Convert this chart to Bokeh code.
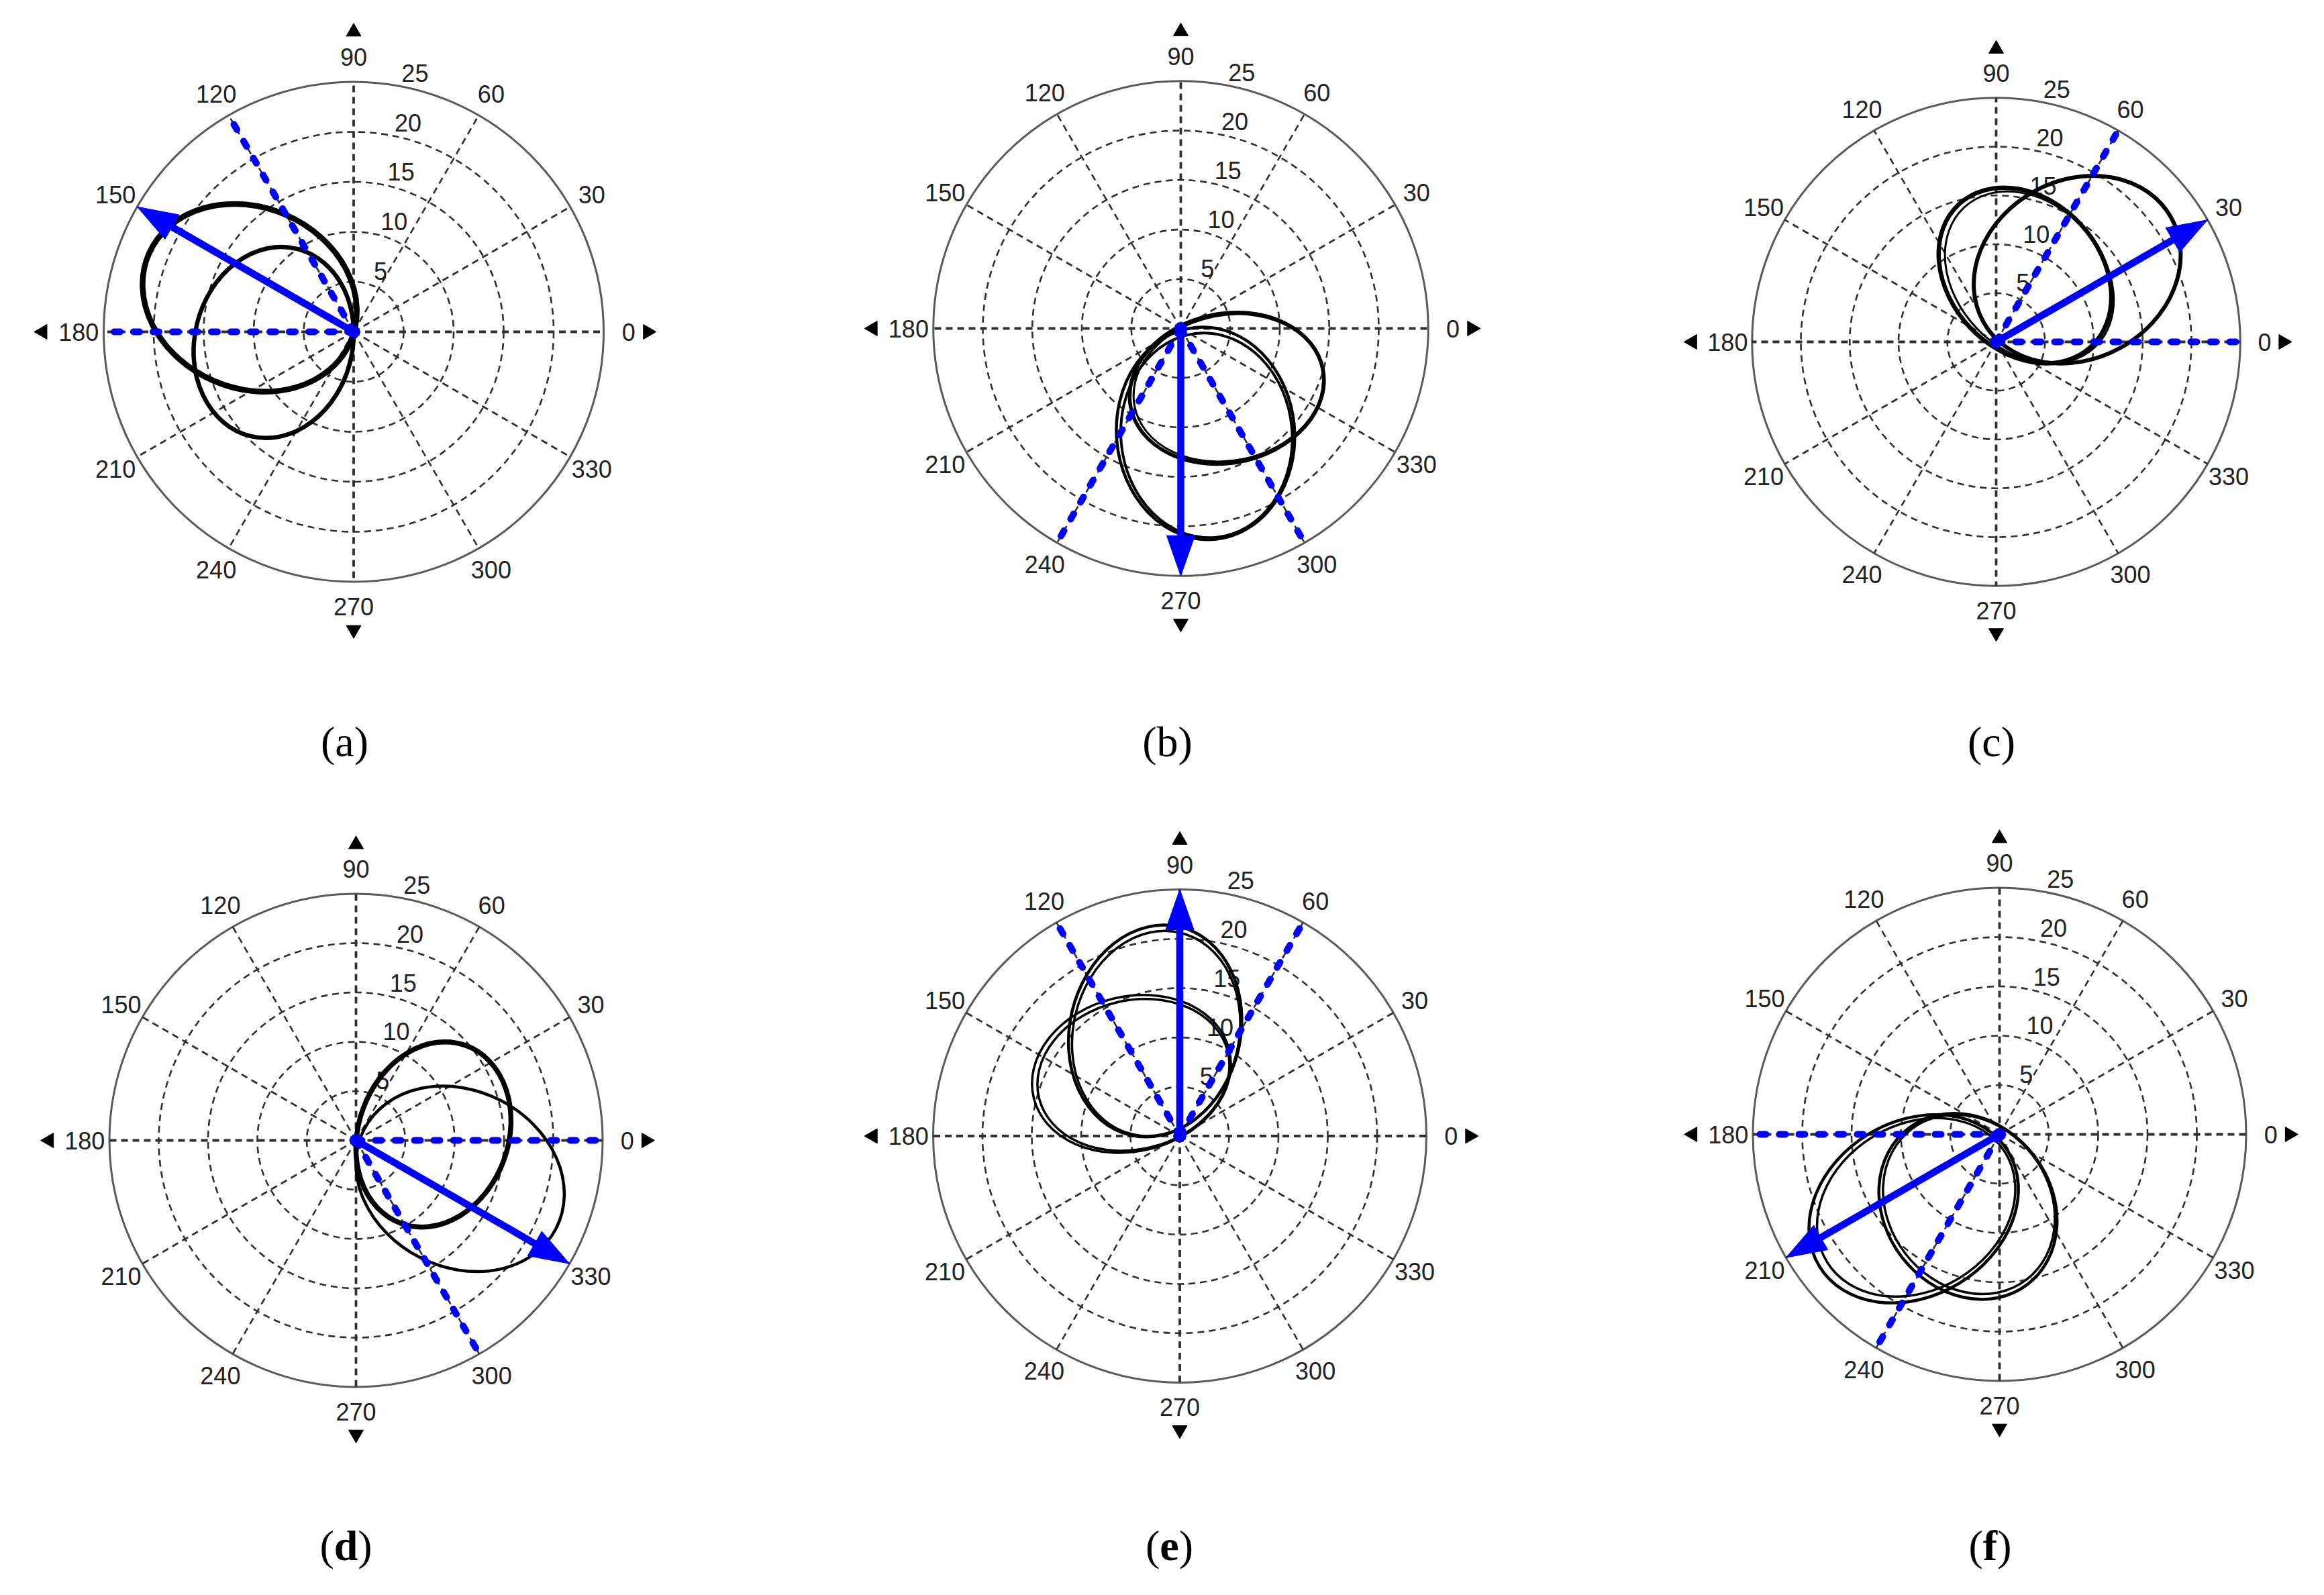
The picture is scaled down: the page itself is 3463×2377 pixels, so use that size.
import math
from bokeh.plotting import figure
from bokeh.models import Range1d, Label
from bokeh.layouts import row, column
from bokeh.embed import file_html
from bokeh.resources import INLINE
from bokeh.core.properties import value

# ---------------- data ----------------
PANEL_LETTERS = ["a", "b", "c", "d", "e", "f"]
RADIAL_TICKS = [5, 10, 15, 20, 25]
ANGLE_TICKS = [0, 30, 60, 90, 120, 150, 180, 210, 240, 270, 300, 330]
R_MAX = 25

# blue arrow (mean direction) and the two dashed bounding directions, degrees
ARROW_DEG = [150, 270, 30, 330, 90, 210]
DASH_DEG = [[120, 180], [240, 300], [0, 60], [0, 300], [60, 120], [180, 240]]

# measured loops, each approximated by an ellipse (polar-plot units)
LOOP_CX = [[-10.4, -8.0], [4.65, 4.8, 2.5, 2.6], [2.95, 3.4, 8.3], [7.85, 10.55],
           [-2.5, -2.4, -4.9, -4.7], [-8.7, -8.45, -3.2, -3.1]]
LOOP_CY = [[3.4, -1.07], [-6.04, -6.0, -10.6, -10.8], [6.8, 6.6, 7.4], [0.6, -3.9],
           [10.65, 10.4, 6.3, 6.2], [-7.55, -7.4, -7.3, -7.1]]
LOOP_MAJOR = [[22.0, 19.3], [19.8, 19.3, 21.5, 20.7], [19.9, 19.6, 22.0], [19.2, 21.9],
              [21.7, 21.0, 20.4, 19.7], [22.4, 21.2, 19.9, 19.2]]
LOOP_MINOR = [[18.1, 15.8], [15.1, 14.7, 18.0, 17.3], [15.5, 15.0, 18.3], [15.2, 17.9],
              [17.3, 16.8, 15.7, 15.1], [17.7, 16.8, 16.9, 16.3]]
LOOP_TILT_DEG = [[-23.5, 76], [11.3, 11.3, 95, 95], [-47, -47, 28.9], [70, -27.2],
                 [76.5, 76.5, 13.9, 13.9], [31.4, 31.4, -52.7, -52.7]]

# ---------------- styles / layout ----------------
LOOP_LW = [[8.5, 6.5], [5.5, 3, 4.5, 4], [6.5, 3, 6], [7.5, 4.5],
           [4.5, 3.5, 3.5, 3.5], [4.5, 3.5, 4.5, 3.5]]
COL_EDGES = [0, 1142, 2362, 3455]
ROW_EDGES = [0, 1187, 2370]
CENTER_PX = [(526.5, 494), (1759, 489), (2974, 509),
             (530, 1699), (1757.5, 1692.5), (2979, 1690)]
PPU = [14.9, 14.75, 14.55, 14.7, 14.7, 14.7]
LABEL_PX = [(513, 1105), (1739, 1105), (2967, 1105),
            (515, 2303), (1742, 2303), (2965, 2303)]
LABEL_BOLD = [False, False, False, True, True, True]
BOLD_LETTER_EM = {"d": 0.556, "e": 0.444, "f": 0.333}

GRID_COLOR = "#303030"
TEXT_COLOR = "#222222"
BLUE = "#0000FF"
TICK_FONT = "Liberation Sans"
TICK_SIZE = 36
LABEL_FONT = "Liberation Serif"
LABEL_SIZE = 64
TRI_R = [30.0, 29.8, 31.1, 29.4]  # up, down, left, right (in radial units)


def make_panel(i):
    col, rw = i % 3, i // 3
    left, right = COL_EDGES[col], COL_EDGES[col + 1]
    top, bottom = ROW_EDGES[rw], ROW_EDGES[rw + 1]
    cx, cy = CENTER_PX[i]
    k = PPU[i]
    p = figure(width=right - left, height=bottom - top,
               x_range=Range1d((left - cx) / k, (right - cx) / k),
               y_range=Range1d((cy - bottom) / k, (cy - top) / k),
               output_backend="svg", toolbar_location=None,
               x_axis_type=None, y_axis_type=None, min_border=0,
               outline_line_color=None, background_fill_color="white",
               border_fill_color="white")

    # rings
    inner = RADIAL_TICKS[:-1]
    p.circle(x=[0] * len(inner), y=[0] * len(inner), radius=inner,
             fill_color=None, line_color=GRID_COLOR, line_width=2.6, line_dash="10 7")
    p.circle(x=[0], y=[0], radius=[R_MAX], fill_color=None,
             line_color="#5a5a5a", line_width=3)

    # spokes
    for sel, lw in ((lambda a: a % 90 == 0, 3.8), (lambda a: a % 90 != 0, 2.6)):
        angs = [a for a in ANGLE_TICKS if sel(a)]
        p.segment(x0=[0] * len(angs), y0=[0] * len(angs),
                  x1=[R_MAX * math.cos(math.radians(a)) for a in angs],
                  y1=[R_MAX * math.sin(math.radians(a)) for a in angs],
                  line_color=GRID_COLOR, line_width=lw, line_dash="10 7")

    # angle labels
    p.text(x=[1.1 * R_MAX * math.cos(math.radians(a)) for a in ANGLE_TICKS],
           y=[1.1 * R_MAX * math.sin(math.radians(a)) for a in ANGLE_TICKS],
           text=[str(a) for a in ANGLE_TICKS],
           text_font=value(TICK_FONT), text_font_size=f"{TICK_SIZE}px",
           text_align="center", text_baseline="middle", text_color=TEXT_COLOR)

    # radial labels (MATLAB style, at 82 degrees)
    c82, s82 = math.cos(math.radians(82)), math.sin(math.radians(82))
    rinc = RADIAL_TICKS[1] - RADIAL_TICKS[0]
    p.text(x=[(v + rinc / 20) * c82 for v in RADIAL_TICKS],
           y=[(v + rinc / 20) * s82 for v in RADIAL_TICKS],
           text=[str(v) for v in RADIAL_TICKS],
           text_font=value(TICK_FONT), text_font_size=f"{TICK_SIZE}px",
           text_align="left", text_baseline="bottom", x_offset=19,
           text_color=TEXT_COLOR)

    # axis triangles
    p.scatter(x=[0, 0, -TRI_R[2], TRI_R[3]], y=[TRI_R[0], -TRI_R[1], 0, 0],
              marker="triangle", angle=[0, math.pi, math.pi / 2, -math.pi / 2],
              size=22, color="black")

    # loops
    for j in range(len(LOOP_CX[i])):
        p.ellipse(x=[LOOP_CX[i][j]], y=[LOOP_CY[i][j]],
                  width=[LOOP_MAJOR[i][j]], height=[LOOP_MINOR[i][j]],
                  angle=[math.radians(LOOP_TILT_DEG[i][j])],
                  fill_color=None, line_color="black", line_width=LOOP_LW[i][j])

    # dashed bounding directions
    dd = DASH_DEG[i]
    p.segment(x0=[0] * len(dd), y0=[0] * len(dd),
              x1=[R_MAX * math.cos(math.radians(a)) for a in dd],
              y1=[R_MAX * math.sin(math.radians(a)) for a in dd],
              line_color=BLUE, line_width=10, line_dash="9 20", line_cap="round")

    # arrow
    th = math.radians(ARROW_DEG[i])
    c, s = math.cos(th), math.sin(th)
    head_len, head_w = 60 / k, 42 / k
    shaft_end = R_MAX - head_len + 0.5
    p.segment(x0=[0], y0=[0], x1=[shaft_end * c], y1=[shaft_end * s],
              line_color=BLUE, line_width=10.5, line_cap="round")
    bx, by = (R_MAX - head_len) * c, (R_MAX - head_len) * s
    p.patch(x=[R_MAX * c, bx - head_w / 2 * s, bx + head_w / 2 * s],
            y=[R_MAX * s, by + head_w / 2 * c, by - head_w / 2 * c],
            fill_color=BLUE, line_color=BLUE, line_width=1)
    p.scatter(x=[0], y=[0], marker="circle", size=18, color=BLUE)

    # panel label
    lx, ly = LABEL_PX[i]
    dx, dy = (lx - cx) / k, (cy - ly) / k
    letter = PANEL_LETTERS[i]
    if LABEL_BOLD[i]:
        half = BOLD_LETTER_EM[letter] * LABEL_SIZE / 2
        for txt, align, off, style in (("(", "right", -half, "normal"),
                                        (letter, "center", 0, "bold"),
                                        (")", "left", half, "normal")):
            p.add_layout(Label(x=dx, y=dy, text=txt, x_offset=off,
                               text_font=LABEL_FONT, text_font_size=f"{LABEL_SIZE}px",
                               text_font_style=style, text_align=align,
                               text_baseline="middle", text_color="black"))
    else:
        p.add_layout(Label(x=dx, y=dy, text=f"({letter})",
                           text_font=LABEL_FONT, text_font_size=f"{LABEL_SIZE}px",
                           text_align="center", text_baseline="middle",
                           text_color="black"))
    return p


panels = [make_panel(i) for i in range(6)]
layout = column(row(*panels[:3]), row(*panels[3:]))
open("out.html", "w").write(file_html(layout, INLINE, "Polar plots"))
